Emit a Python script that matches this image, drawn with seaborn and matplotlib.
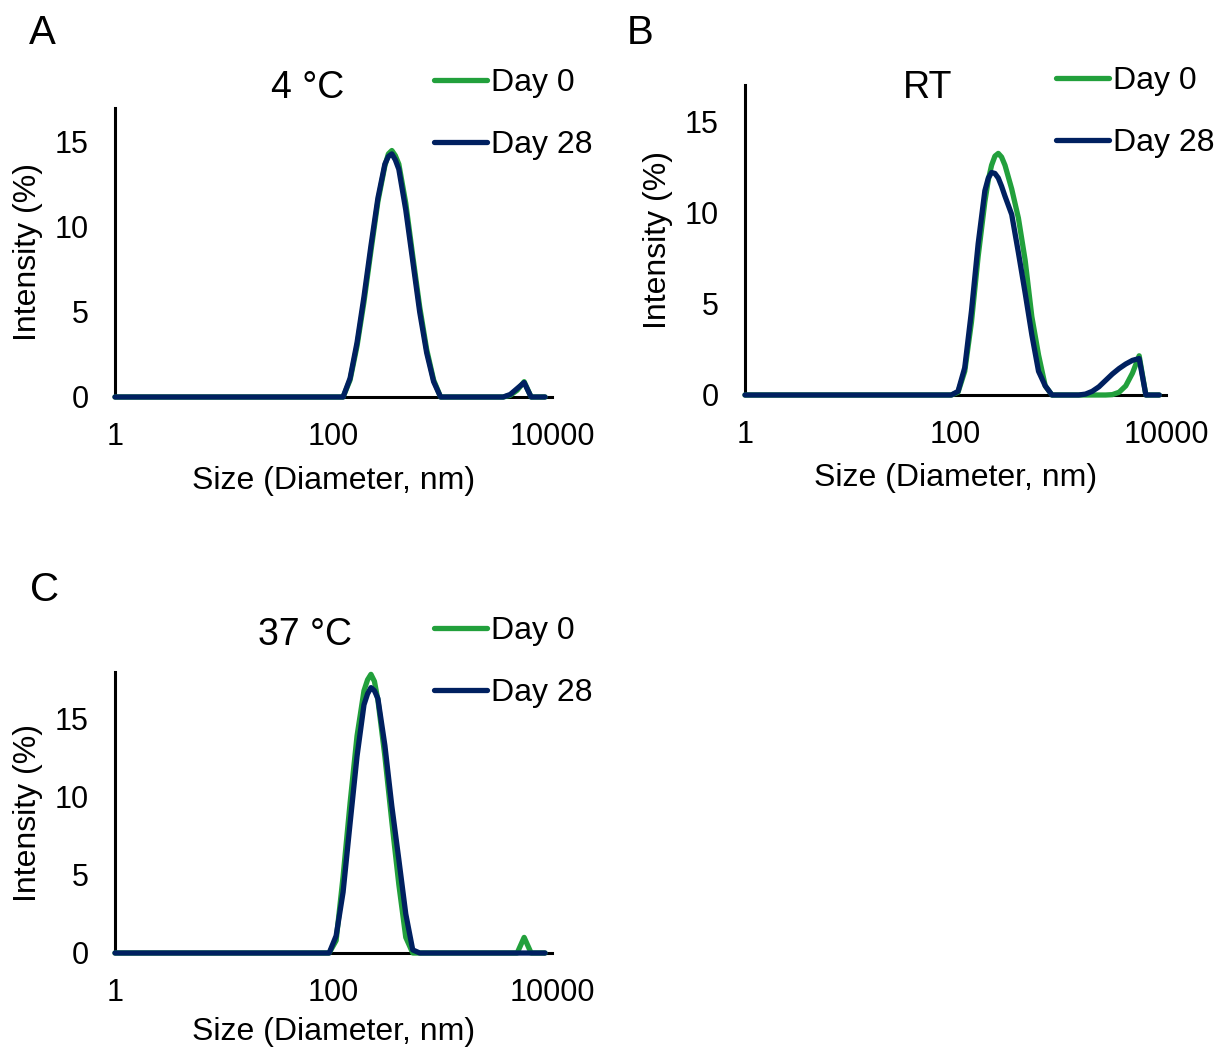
import numpy as np
import pandas as pd
import matplotlib
matplotlib.use("Agg")
import matplotlib.pyplot as plt
from matplotlib.ticker import NullLocator
import seaborn as sns

# DLS size distributions (size in nm, intensity in %)
a_size = [1, 105.7, 122.4, 141.8, 164.2, 190.1, 220.2, 255.0, 295.3, 318, 342.0, 368, 396.1,
          458.7, 531.2, 615.1, 712.4, 825.0, 955.4, 1106, 3091, 3580, 4145, 4801, 5560,
          6439, 7456, 8635]
a_day0 = [0, 0, 0, 1.0, 3.0, 5.6, 8.6, 11.5, 13.6, 14.3, 14.5, 14.2, 13.7,
          11.4, 8.3, 5.3, 2.8, 1.0, 0, 0, 0, 0, 0.1, 0.4, 0.9,
          0, 0, 0]
a_day28 = [0, 0, 0, 1.1, 3.2, 5.9, 8.9, 11.7, 13.7, 14.15, 14.3, 13.95, 13.4,
           11.0, 8.0, 5.0, 2.6, 0.9, 0, 0, 0, 0, 0.15, 0.5, 0.85,
           0, 0, 0]

b_size = [1, 91.28, 105.7, 122.4, 141.8, 164.2, 190.1, 205, 220.2, 237, 255.0, 274,
          295.3, 342.0, 396.1, 458.7, 531.2, 615.1, 712.4, 825.0, 955.4, 1106, 1281, 1484,
          1718, 1990, 2305, 2669, 3091, 3580, 4145, 4801, 5560, 6439, 7456, 8635]
b_day0 = [0, 0, 0.15, 1.3, 4.0, 7.6, 10.6, 11.8, 12.6, 13.1, 13.25, 13.05,
          12.6, 11.3, 9.7, 7.4, 4.3, 2.2, 0.5, 0, 0, 0, 0, 0,
          0, 0, 0, 0, 0.02, 0.15, 0.5, 1.2, 2.15, 0, 0, 0]
b_day28 = [0, 0, 0.2, 1.5, 4.6, 8.3, 11.2, 11.9, 12.2, 12.15, 11.9, 11.45,
           10.9, 9.9, 7.8, 5.6, 3.3, 1.3, 0.5, 0, 0, 0, 0, 0,
           0.05, 0.2, 0.45, 0.8, 1.15, 1.45, 1.7, 1.9, 2.0, 0, 0, 0]

c_size = [1, 91.28, 105.7, 122.4, 141.8, 164.2, 190.1, 205, 220.2, 237, 255.0, 295.3,
          342.0, 396.1, 458.7, 531.2, 615.1, 712.4, 4145, 4801, 5560, 6439, 7456, 8635]
c_day0 = [0, 0, 0.8, 4.9, 9.6, 13.9, 16.8, 17.5, 17.85, 17.4, 16.2, 12.6,
          8.4, 4.4, 1.0, 0, 0, 0, 0, 0, 1.0, 0, 0, 0]
c_day28 = [0, 0, 1.1, 3.9, 8.3, 12.6, 15.9, 16.6, 17.0, 16.8, 16.3, 13.3,
           9.4, 6.0, 2.5, 0.2, 0, 0, 0, 0, 0, 0, 0, 0]

days = ["Day 0", "Day 28"]
colors = {"Day 0": "#22A03C", "Day 28": "#002060"}

W, H = 1216, 1051

sns.set_style("white")
plt.rcParams["font.family"] = ["Liberation Sans", "DejaVu Sans"]
plt.rcParams["text.color"] = "black"
plt.rcParams["axes.labelcolor"] = "black"
plt.rcParams["xtick.color"] = "black"
plt.rcParams["ytick.color"] = "black"

fig = plt.figure(figsize=(W / 100, H / 100), dpi=100)

# pixel boxes: left, top, right, bottom
panels = [
    dict(letter="A", letter_xy=(42, 33), title="4 °C", title_xy=(308, 88),
         size=a_size, d0=a_day0, d28=a_day28, box=(115, 108, 552, 397), ymax=17,
         leg_xy=(434, 68), xlab_y=481),
    dict(letter="B", letter_xy=(640, 33), title="RT", title_xy=(928, 88),
         size=b_size, d0=b_day0, d28=b_day28, box=(745, 85, 1166, 395), ymax=17,
         leg_xy=(1056, 66), xlab_y=478),
    dict(letter="C", letter_xy=(45, 590), title="37 °C", title_xy=(305, 635),
         size=c_size, d0=c_day0, d28=c_day28, box=(115, 672, 552, 953), ymax=18,
         leg_xy=(434, 616), xlab_y=1032),
]

for p in panels:
    l, t, r, b = p["box"]
    ax = fig.add_axes([l / W, 1 - b / H, (r - l) / W, (b - t) / H])
    n = len(p["size"])
    df = pd.DataFrame({
        "size": p["size"] * 2,
        "intensity": p["d0"] + p["d28"],
        "day": ["Day 0"] * n + ["Day 28"] * n,
    })
    sns.lineplot(data=df, x="size", y="intensity", hue="day", hue_order=days,
                 palette=colors, estimator=None, sort=False, lw=3.8, ax=ax,
                 zorder=3, clip_on=False, solid_capstyle="round",
                 solid_joinstyle="round")

    ax.set_xscale("log")
    ax.set_xlim(1, 10000)
    ax.set_ylim(0, p["ymax"])
    ax.set_xticks([1, 100, 10000])
    ax.set_xticklabels(["1", "100", "10000"])
    ax.xaxis.set_minor_locator(NullLocator())
    ax.set_yticks([0, 5, 10, 15])
    ax.tick_params(axis="x", length=0, pad=18, labelsize=22)
    ax.tick_params(axis="y", length=0, pad=19, labelsize=22)

    sns.despine(ax=ax)
    for s in ["left", "bottom"]:
        ax.spines[s].set_color("black")
        ax.spines[s].set_linewidth(2.2)

    ax.set_xlabel("Size (Diameter, nm)", fontsize=23)
    ax.set_ylabel("Intensity (%)", fontsize=23)
    ax.xaxis.set_label_coords(0.5, (b - p["xlab_y"]) / (b - t))
    ax.xaxis.label.set_va("center")
    ax.yaxis.set_label_coords(-87 / (r - l), 0.5)
    ax.yaxis.label.set_va("center")

    handles, labels = ax.get_legend_handles_labels()
    ax.legend(handles, labels, loc="upper left",
              bbox_to_anchor=(p["leg_xy"][0] / W, 1 - p["leg_xy"][1] / H),
              bbox_transform=fig.transFigure, frameon=False, fontsize=23,
              handlelength=1.65, handletextpad=0.12, labelspacing=1.0,
              borderpad=0, borderaxespad=0)

    fig.text(p["title_xy"][0] / W, 1 - p["title_xy"][1] / H, p["title"],
             ha="center", va="center", fontsize=27)
    fig.text(p["letter_xy"][0] / W, 1 - p["letter_xy"][1] / H, p["letter"],
             ha="center", va="center", fontsize=29)

fig.savefig("out.png", dpi=100)
